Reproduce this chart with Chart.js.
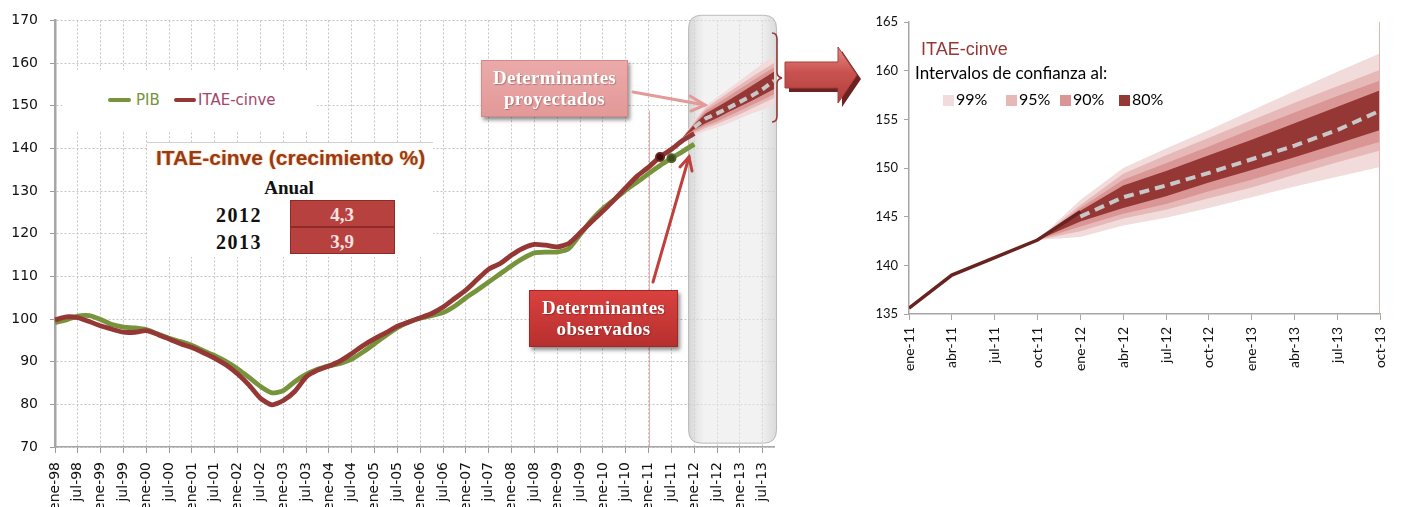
<!DOCTYPE html>
<html>
<head>
<meta charset="utf-8">
<script src="https://cdn.jsdelivr.net/npm/chart.js@4.4.1/dist/chart.umd.min.js"></script>
<style>
  html,body{margin:0;padding:0;background:#fff;}
  body{width:1404px;height:507px;overflow:hidden;position:relative;}
  #wrapL{position:absolute;left:0;top:0;width:800px;height:507px;}
  #wrapR{position:absolute;left:860px;top:0;width:544px;height:507px;}
  .abs{position:absolute;}
  #legL{left:62px;top:70px;width:255px;height:60px;background:#fff;}
  .lsw{position:absolute;height:4px;border-radius:2px;}
  .ltx{position:absolute;font-family:"DejaVu Sans",sans-serif;font-size:15px;line-height:18px;}
  #tbl{left:147px;top:142px;width:286px;height:114px;background:#fff;border-top:1px solid #d0d0d0;}
  .ttl{position:absolute;font-family:"Liberation Sans",Arial,sans-serif;font-weight:bold;font-size:21px;color:#983b12;text-shadow:0 0 2px #f0b080;white-space:nowrap;}
  .ser{position:absolute;font-family:"Liberation Serif",serif;font-weight:bold;white-space:nowrap;transform:translate(-50%,-50%);}
  .cell{position:absolute;left:143px;width:105px;height:27px;background:#b7413e;border:1px solid #8e2a28;box-sizing:border-box;}
  .box{position:absolute;box-sizing:border-box;box-shadow:2px 3px 4px rgba(0,0,0,0.45);}
  .btx{position:absolute;left:0;width:100%;text-align:center;font-family:"Liberation Serif",serif;font-weight:bold;font-size:19px;color:#fff;line-height:21px;text-shadow:1px 1px 1px rgba(0,0,0,0.25);letter-spacing:0.3px;}
  .rt{position:absolute;white-space:nowrap;}
  .sq{position:absolute;width:11px;height:11px;}
</style>
</head>
<body>
<div id="wrapL"><canvas id="cL"></canvas></div>
<div id="wrapR"><canvas id="cR"></canvas></div>

<!-- left legend -->
<div id="legL" class="abs">
  <div class="lsw" style="left:46px;top:28px;width:23px;background:#77933c;"></div>
  <div class="ltx" style="left:74px;top:21px;color:#77933c;">PIB</div>
  <div class="lsw" style="left:112px;top:28px;width:22px;background:#953735;"></div>
  <div class="ltx" style="left:136px;top:21px;color:#a4466a;">ITAE-cinve</div>
</div>

<!-- growth table -->
<div id="tbl" class="abs"></div>

<!-- annotation boxes -->
<div class="box" style="left:481px;top:60px;width:147px;height:57px;background:linear-gradient(#eaaaa9,#e39998);border:1px solid #d48a89;">
  <div class="btx" style="top:6px;">Determinantes</div>
  <div class="btx" style="top:27px;">proyectados</div>
</div>
<div class="box" style="left:529px;top:290px;width:149px;height:57px;background:linear-gradient(#d9413f,#b7302e);border:1px solid #9e2727;">
  <div class="btx" style="top:6px;">Determinantes</div>
  <div class="btx" style="top:27px;">observados</div>
</div>

<!-- right legend -->
<div class="rt" style="left:921px;top:39px;font-family:'Liberation Sans',Arial,sans-serif;font-size:18px;color:#953735;">ITAE-cinve</div>
<div class="rt" style="left:915px;top:62px;font-family:Lato,sans-serif;font-size:17px;color:#000;">Intervalos de confianza al:</div>
<div id="legR"></div>

<svg class="abs" style="left:0;top:0;" width="1404" height="507" xmlns="http://www.w3.org/2000/svg">
  <defs>
    <linearGradient id="gArrow" x1="0" y1="0" x2="0" y2="1">
      <stop offset="0" stop-color="#e58a87"/>
      <stop offset="0.45" stop-color="#c9524f"/>
      <stop offset="1" stop-color="#b0403d"/>
    </linearGradient>
  </defs>
  <g stroke="#e39a99" stroke-width="3" fill="none" stroke-linecap="round">
    <line x1="633" y1="92" x2="705" y2="105"/>
    <polyline points="690,96 705,105 691,111"/>
  </g>
  <g stroke="#c0403d" stroke-width="3" fill="none" stroke-linecap="round">
    <line x1="653" y1="282" x2="689" y2="157"/>
    <polyline points="680,167 689,157 692,171"/>
  </g>
  <path d="M772,33 Q777,33 777,39 L777,72 Q777,77 782,78 Q777,79 777,84 L777,116 Q777,122 772,122" stroke="#953735" stroke-width="1.6" fill="none"/>
  <polygon points="789,66 842,66 842,51 861,79 842,107 842,92 789,92" fill="#6b2220"/>
  <polygon points="785,62 838,62 838,47 857,75 838,103 838,88 785,88" fill="url(#gArrow)" stroke="#a63d3a" stroke-width="1"/>
</svg>

<script>
// ---------------- DATA ----------------
const quartersL = ['ene-98','abr-98','jul-98','oct-98','ene-99','abr-99','jul-99','oct-99',
  'ene-00','abr-00','jul-00','oct-00','ene-01','abr-01','jul-01','oct-01',
  'ene-02','abr-02','jul-02','oct-02','ene-03','abr-03','jul-03','oct-03',
  'ene-04','abr-04','jul-04','oct-04','ene-05','abr-05','jul-05','oct-05',
  'ene-06','abr-06','jul-06','oct-06','ene-07','abr-07','jul-07','oct-07',
  'ene-08','abr-08','jul-08','oct-08','ene-09','abr-09','jul-09','oct-09',
  'ene-10','abr-10','jul-10','oct-10','ene-11','abr-11','jul-11','oct-11',
  'ene-12','abr-12','jul-12','oct-12','ene-13','abr-13','jul-13','oct-13'];

const pib = [99.2,99.8,100.7,100.8,99.9,98.7,98.1,97.9,
  97.5,96.5,95.5,94.7,93.8,92.6,91.4,90.0,
  88.3,86.3,84.2,82.7,83.2,85.3,87.0,88.2,
  89.0,89.6,90.6,92.3,94.2,96.2,98.0,99.3,
  100.2,100.8,101.5,103.0,105.0,106.8,108.7,110.6,
  112.5,114.2,115.5,115.7,115.7,116.5,119.8,123.2,
  125.9,128.0,130.2,132.1,134.1,136.0,137.7,139.3,
  141.0];

const itaeL = [99.8,100.5,100.3,99.4,98.4,97.6,96.9,96.9,
  97.3,96.4,95.3,94.2,93.3,92.1,90.8,89.2,
  87.1,84.5,81.4,79.9,80.9,83.0,86.4,88.0,
  89.0,90.2,91.9,93.8,95.4,96.8,98.3,99.3,
  100.3,101.3,102.8,104.8,106.8,109.3,111.7,113.0,
  115.0,116.6,117.5,117.3,116.9,117.7,120.2,122.8,
  125.3,128.0,130.8,133.5,135.6,138.0,139.8,141.9,
  143.5];

const quartersR = ['ene-11','abr-11','jul-11','oct-11','ene-12','abr-12',
  'jul-12','oct-12','ene-13','abr-13','jul-13','oct-13'];
const itaeR = [135.6,139.0,140.8,142.6,145.5];            // ene-11 .. ene-12

const forecastStart = 'ene-12';
const forecast = [145.0,147.0,148.2,149.5,150.9,152.3,153.9,155.9]; // ene-12 .. oct-13

const fanStart = 'oct-11';                                   // oct-11 .. oct-13
const up99 = [142.6,146.7,150.0,152.0,153.9,155.9,157.9,159.9,161.8];
const up95 = [142.6,146.2,149.4,151.3,153.1,154.9,156.7,158.4,160.1];
const up90 = [142.6,145.9,148.8,150.5,152.2,154.0,155.7,157.4,159.0];
const up80 = [142.6,145.6,148.2,149.7,151.3,152.9,154.6,156.3,158.0];
const lo80 = [142.6,144.5,145.9,147.1,148.5,149.8,151.1,152.5,153.9];
const lo90 = [142.6,144.0,145.3,146.3,147.6,148.8,150.1,151.4,152.7];
const lo95 = [142.6,143.5,144.8,145.7,146.9,148.0,149.3,150.6,151.8];
const lo99 = [142.6,142.9,144.1,144.9,145.9,147.0,148.1,149.1,150.1];

const bandNames = ['99%','95%','90%','80%'];
const bandColors = ['#f2dcdb','#e6b9b8','#d99694','#953735'];

const tableTitle = 'ITAE-cinve (crecimiento %)';
const tableHeader = 'Anual';
const tableYears = ['2012','2013'];
const tableValues = ['4,3','3,9'];

const markerItae = 'abr-11';
const markerPib = 'jul-11';

// ---------------- HTML bits built from data ----------------
(function(){
  const t = document.getElementById('tbl');
  let h = '<div class="ttl" style="left:9px;top:3px;">'+tableTitle+'</div>';
  h += '<div class="ser" style="left:142px;top:45px;font-size:19px;color:#111;">'+tableHeader+'</div>';
  tableYears.forEach((y,i)=>{
    h += '<div class="ser" style="left:92px;top:'+(72+i*27)+'px;font-size:20px;letter-spacing:1.5px;color:#111;">'+y+'</div>';
    h += '<div class="cell" style="top:'+(57+i*27)+'px;"></div>';
    h += '<div class="ser" style="left:195px;top:'+(72+i*27)+'px;font-size:19px;color:#f6e2e1;">'+tableValues[i]+'</div>';
  });
  t.innerHTML = h;
  const lr = document.getElementById('legR');
  const sqX = [943,1006,1060,1119];
  let g = '';
  bandNames.forEach((n,i)=>{
    g += '<div class="sq" style="left:'+sqX[i]+'px;top:95px;background:'+bandColors[i]+';"></div>';
    g += '<div class="rt" style="left:'+(sqX[i]+13)+'px;top:89px;font-family:Lato,sans-serif;font-size:16px;color:#000;">'+n+'</div>';
  });
  lr.innerHTML = g;
})();

// ---------------- helpers ----------------
function pad(arr, start, len){
  const out = new Array(len).fill(null);
  arr.forEach((v,i)=>{ if(start+i < len) out[start+i] = v; });
  return out;
}
function band(upper, lower, color, order, mk){
  return [
    {data: mk(upper), borderWidth:0, pointRadius:0, fill:'+1', backgroundColor:color, order:order},
    {data: mk(lower), borderWidth:0, pointRadius:0, fill:false, order:order}
  ];
}

// ---------------- LEFT CHART ----------------
const nL = quartersL.length;
const iFanL = quartersL.indexOf(fanStart);
const iFcL = quartersL.indexOf(forecastStart);
const mkL = a => pad(a, iFanL, nL);
const iMkI = quartersL.indexOf(markerItae);
const iMkP = quartersL.indexOf(markerPib);

const decorL = {
  id:'decorL',
  beforeDatasetsDraw(chart){
    const {ctx, scales:{x,y}} = chart;
    const x1 = x.getPixelForValue(iFcL - 0.5), x2 = x.getPixelForValue(nL - 0.8);
    const y1 = y.getPixelForValue(171.2), y2 = y.getPixelForValue(70.9);
    const r = 13;
    ctx.save();
    const g = ctx.createLinearGradient(x1,0,x2,0);
    g.addColorStop(0,'rgba(200,200,200,0.75)');
    g.addColorStop(0.18,'rgba(232,232,232,0.55)');
    g.addColorStop(0.8,'rgba(232,232,232,0.55)');
    g.addColorStop(1,'rgba(205,205,205,0.75)');
    ctx.beginPath();
    ctx.moveTo(x1+r,y1); ctx.lineTo(x2-r,y1); ctx.quadraticCurveTo(x2,y1,x2,y1+r);
    ctx.lineTo(x2,y2-r); ctx.quadraticCurveTo(x2,y2,x2-r,y2);
    ctx.lineTo(x1+r,y2); ctx.quadraticCurveTo(x1,y2,x1,y2-r);
    ctx.lineTo(x1,y1+r); ctx.quadraticCurveTo(x1,y1,x1+r,y1);
    ctx.fillStyle = g; ctx.fill();
    ctx.strokeStyle = 'rgba(180,180,180,0.9)'; ctx.lineWidth = 1; ctx.stroke();
    const xm = Math.round(x.getPixelForValue(quartersL.indexOf('ene-11'))) + 0.5;
    ctx.beginPath(); ctx.moveTo(xm, y.getPixelForValue(148.9)); ctx.lineTo(xm, y.bottom);
    ctx.strokeStyle = 'rgba(220,140,140,0.7)'; ctx.lineWidth = 1; ctx.stroke();
    ctx.restore();
  }
};

new Chart(document.getElementById('cL'), {
  type:'line',
  data:{
    labels: quartersL,
    datasets:[
      ...band(up99, lo99, bandColors[0], 20, mkL),
      ...band(up95, lo95, bandColors[1], 19, mkL),
      ...band(up90, lo90, bandColors[2], 18, mkL),
      ...band(up80, lo80, bandColors[3], 17, mkL),
      {data: pad(pib,0,nL), borderColor:'#77933c', borderWidth:4.8, tension:0.2, fill:false, order:5,
       pointRadius: c => c.dataIndex===iMkP ? 4 : 0, pointBackgroundColor:'#3a4a1a', pointBorderColor:'#4f6228', pointBorderWidth:2},
      {data: pad(itaeL,0,nL), borderColor:'#953735', borderWidth:4.8, tension:0.2, fill:false, order:4,
       pointRadius: c => c.dataIndex===iMkI ? 4 : 0, pointBackgroundColor:'#3a0e0e', pointBorderColor:'#6b2220', pointBorderWidth:2},
      {data: pad(forecast, iFcL, nL), borderColor:'#c8c8c8', borderWidth:4, borderDash:[8,5], fill:false, order:1, pointRadius:0}
    ]
  },
  options:{
    responsive:true, maintainAspectRatio:false, animation:false,
    layout:{padding:{top:20,right:24,left:0,bottom:0}},
    plugins:{legend:{display:false}, tooltip:{enabled:false}},
    scales:{
      x:{
        type:'category',
        ticks:{autoSkip:false, minRotation:90, maxRotation:90, padding:9, color:'#111',
          font:{family:'DejaVu Sans', size:14},
          callback:(v,i)=> i%2===0 ? quartersL[i] : ''},
        grid:{color: c => c.index%2===0 ? '#c4c4c4' : 'rgba(0,0,0,0)',
              tickColor: c => c.index%2===0 ? '#9a9a9a' : 'rgba(0,0,0,0)', tickLength:6, lineWidth:1},
        border:{color:'#a6a6a6', width:1.5, dash:[2,2]},
        afterFit: s => { s.height = 60; }
      },
      y:{
        min:70, max:170,
        ticks:{stepSize:10, padding:12, color:'#111', font:{family:'DejaVu Sans', size:14}},
        grid:{color:'#c4c4c4', tickColor:'#9a9a9a', tickLength:5, lineWidth:1},
        border:{color:'#a6a6a6', width:2.5, dash:[2,2]},
        afterFit: s => { s.width = 55; }
      }
    }
  },
  plugins:[decorL]
});

// ---------------- RIGHT CHART ----------------
const iFanR = quartersR.indexOf(fanStart);
const iFcR = quartersR.indexOf(forecastStart);
const mkR = a => a.map((v,i)=>({x:iFanR+i, y:v}));

const decorR = {
  id:'decorR',
  afterDraw(chart){
    const {ctx, chartArea:a} = chart;
    ctx.save();
    ctx.beginPath(); ctx.moveTo(Math.round(a.right)-0.5, a.top); ctx.lineTo(Math.round(a.right)-0.5, a.bottom);
    ctx.strokeStyle = '#e2b5b4'; ctx.lineWidth = 1; ctx.stroke();
    ctx.restore();
  }
};

new Chart(document.getElementById('cR'), {
  type:'line',
  data:{
    datasets:[
      ...band(up99, lo99, bandColors[0], 20, mkR),
      ...band(up95, lo95, bandColors[1], 19, mkR),
      ...band(up90, lo90, bandColors[2], 18, mkR),
      ...band(up80, lo80, bandColors[3], 17, mkR),
      {data: itaeR.map((v,i)=>({x:i,y:v})), borderColor:'#682321', borderWidth:3.5, fill:false, order:4, pointRadius:0},
      {data: forecast.map((v,i)=>({x:iFcR+i,y:v})), borderColor:'#c8c8c8', borderWidth:4, borderDash:[10,6], fill:false, order:1, pointRadius:0}
    ]
  },
  options:{
    responsive:true, maintainAspectRatio:false, animation:false,
    layout:{padding:{top:22,right:3,left:0,bottom:0}},
    plugins:{legend:{display:false}, tooltip:{enabled:false}},
    scales:{
      x:{
        type:'linear', min:0, max:quartersR.length-1,
        ticks:{stepSize:1, autoSkip:false, minRotation:90, maxRotation:90, padding:7, color:'#111',
          font:{family:'Lato', size:14},
          callback: v => quartersR[v] ?? ''},
        grid:{drawOnChartArea:false, tickColor:'#a6a6a6', tickLength:6},
        border:{color:'#a6a6a6', width:1.5},
        afterFit: s => { s.height = 193; }
      },
      y:{
        min:135, max:165,
        ticks:{stepSize:5, padding:6, color:'#111', font:{family:'Lato', size:13}},
        grid:{drawOnChartArea:false, tickColor:'#a6a6a6', tickLength:5},
        border:{color:'#a6a6a6', width:1.5},
        afterFit: s => { s.width = 49; }
      }
    }
  },
  plugins:[decorR]
});
</script>
</body>
</html>
